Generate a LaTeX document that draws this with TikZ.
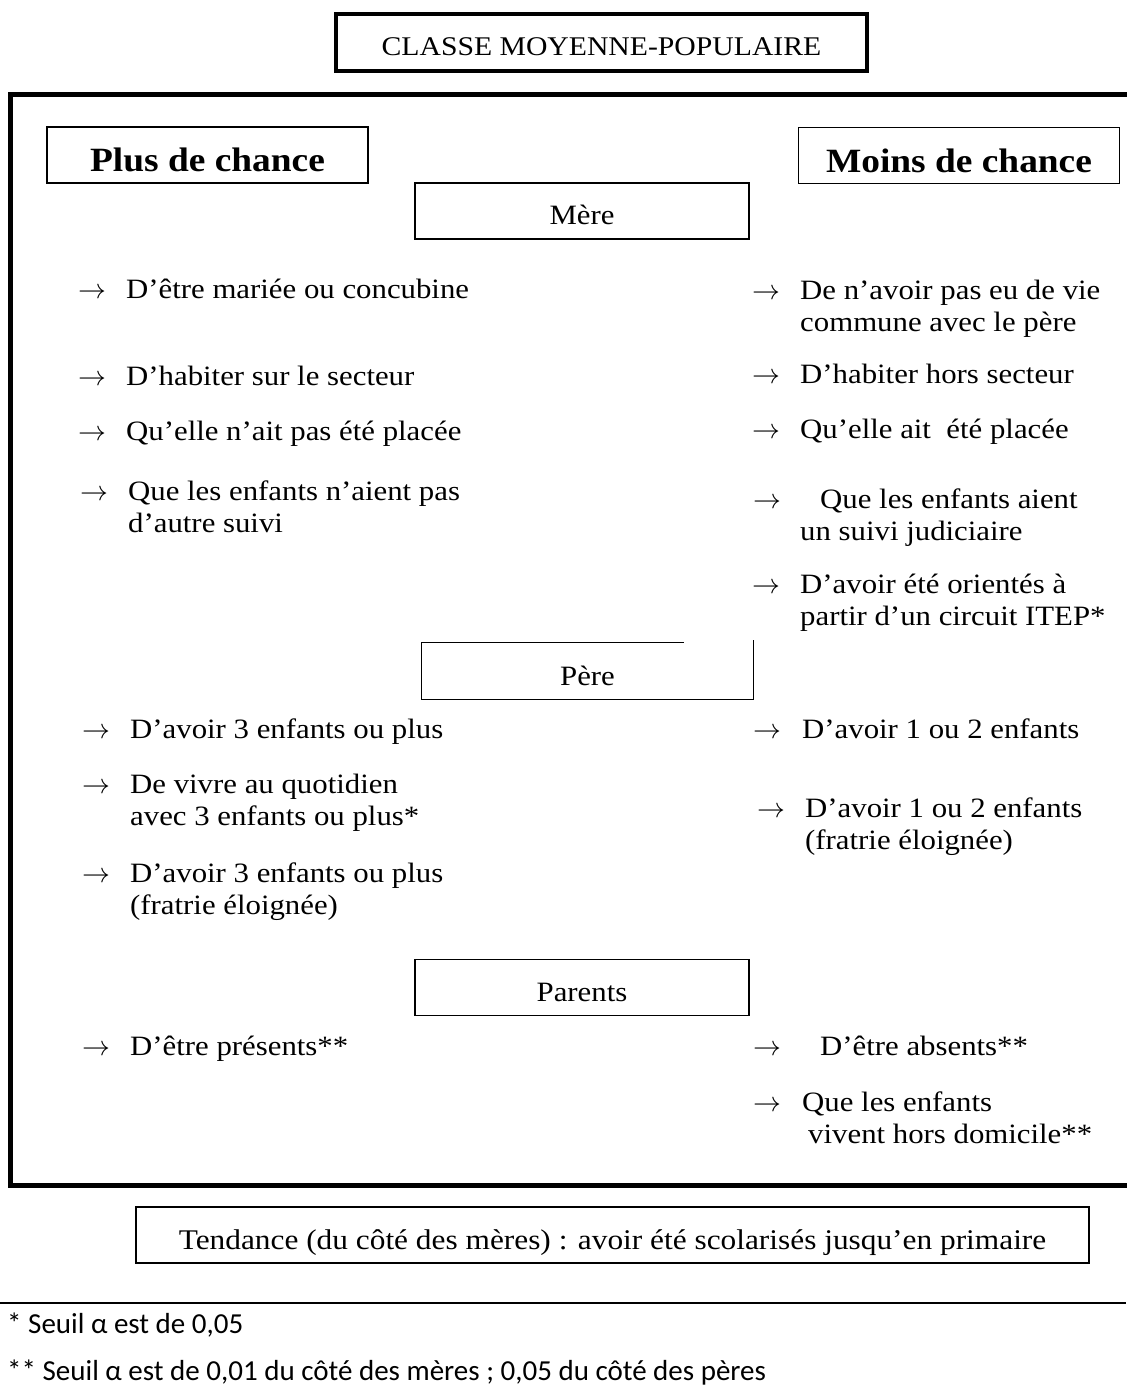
\documentclass[tikz,border=0pt]{standalone}
\usepackage{fontspec}
\setmainfont[FakeStretch=1.1]{Liberation Serif}
\newfontfamily\notefont{Carlito}

\begin{document}
\begin{tikzpicture}[x=1bp,y=-1bp,line join=miter,
  every node/.style={inner sep=0pt},
  cadre/.style={line width=5bp},
  titre/.style={draw,line width=3.5bp,minimum width=531bp,minimum height=57bp,text height=27bp,text depth=0pt,font=\fontsize{27bp}{32bp}\selectfont},
  entete/.style={draw,line width=1.2bp,minimum width=321bp,minimum height=56bp,text height=34bp,text depth=0pt,font=\fontsize{34bp}{40bp}\selectfont\bfseries},
  rubrique/.style={draw,line width=1.2bp,minimum width=334bp,minimum height=56bp,text height=28bp,text depth=0pt,font=\fontsize{28bp}{32bp}\selectfont},
  fleche/.style={anchor=base west,font=\normalsize},
  texte/.style={anchor=base west,font=\fontsize{28bp}{32bp}\selectfont},
  renvoi/.style={anchor=base west,font=\notefont\fontsize{29bp}{34bp}\selectfont},
]
\useasboundingbox (0,0) rectangle (1126,1393);
%%
\node[titre] (titre) at (601.5,42.5) {CLASSE MOYENNE-POPULAIRE};
\draw[cadre] (10,95) rectangle (1145,1185);
\node[entete] (plus) at (207.5,155) {Plus de chance};
\node[entete] (moins) at (959,155.5) {Moins de chance};
%
\node[rubrique] (mere) at (582,211) {Mère};
  \node[fleche] (mere_g1_f) at (78,298) {\scalebox{2.8}{$\rightarrow$}};
  \node[texte] (mere_g1) at (126,298) {D’être mariée ou concubine};
  \node[fleche] (mere_g2_f) at (78,385) {\scalebox{2.8}{$\rightarrow$}};
  \node[texte] (mere_g2) at (126,385) {D’habiter sur le secteur};
  \node[fleche] (mere_g3_f) at (78,440) {\scalebox{2.8}{$\rightarrow$}};
  \node[texte] (mere_g3) at (126,440) {Qu’elle n’ait pas été placée};
  \node[fleche] (mere_g4_f) at (80,500) {\scalebox{2.8}{$\rightarrow$}};
  \node[texte] (mere_g4) at (128,500) {\begin{tabular}[t]{@{}l@{}}Que les enfants n’aient pas\\d’autre suivi\end{tabular}};
  \node[fleche] (mere_d1_f) at (752,299) {\scalebox{2.8}{$\rightarrow$}};
  \node[texte] (mere_d1) at (800,299) {\begin{tabular}[t]{@{}l@{}}De n’avoir pas eu de vie\\commune avec le père\end{tabular}};
  \node[fleche] (mere_d2_f) at (752,383) {\scalebox{2.8}{$\rightarrow$}};
  \node[texte] (mere_d2) at (800,383) {D’habiter hors secteur};
  \node[fleche] (mere_d3_f) at (752,438) {\scalebox{2.8}{$\rightarrow$}};
  \node[texte] (mere_d3) at (800,438) {Qu’elle ait\ \ été placée};
  \node[fleche] (mere_d4_f) at (753,508) {\scalebox{2.8}{$\rightarrow$}};
  \node[texte] (mere_d4) at (800,508) {\begin{tabular}[t]{@{}l@{}}\hspace*{20bp}Que les enfants aient\\un suivi judiciaire\end{tabular}};
  \node[fleche] (mere_d5_f) at (752,593) {\scalebox{2.8}{$\rightarrow$}};
  \node[texte] (mere_d5) at (800,593) {\begin{tabular}[t]{@{}l@{}}D’avoir été orientés à\\partir d’un circuit ITEP*\end{tabular}};
%
\node[rubrique,draw=none,minimum width=331bp] (pere) at (587.5,671) {Père};
\draw[line width=1.2bp] ([xshift=-70bp]pere.north east) -| (pere.south west) -| ([yshift=2bp]pere.north east);
  \node[fleche] (pere_g1_f) at (82,738) {\scalebox{2.8}{$\rightarrow$}};
  \node[texte] (pere_g1) at (130,738) {D’avoir 3 enfants ou plus};
  \node[fleche] (pere_g2_f) at (82,793) {\scalebox{2.8}{$\rightarrow$}};
  \node[texte] (pere_g2) at (130,793) {\begin{tabular}[t]{@{}l@{}}De vivre au quotidien\\avec 3 enfants ou plus*\end{tabular}};
  \node[fleche] (pere_g3_f) at (82,882) {\scalebox{2.8}{$\rightarrow$}};
  \node[texte] (pere_g3) at (130,882) {\begin{tabular}[t]{@{}l@{}}D’avoir 3 enfants ou plus\\(fratrie éloignée)\end{tabular}};
  \node[fleche] (pere_d1_f) at (753,738) {\scalebox{2.8}{$\rightarrow$}};
  \node[texte] (pere_d1) at (802,738) {D’avoir 1 ou 2 enfants};
  \node[fleche] (pere_d2_f) at (757,817) {\scalebox{2.8}{$\rightarrow$}};
  \node[texte] (pere_d2) at (805,817) {\begin{tabular}[t]{@{}l@{}}D’avoir 1 ou 2 enfants\\(fratrie éloignée)\end{tabular}};
%
\node[rubrique] (parents) at (582,987.5) {Parents};
  \node[fleche] (par_g1_f) at (82,1055) {\scalebox{2.8}{$\rightarrow$}};
  \node[texte] (par_g1) at (130,1055) {D’être présents**};
  \node[fleche] (par_d1_f) at (753,1055) {\scalebox{2.8}{$\rightarrow$}};
  \node[texte] (par_d1) at (820,1055) {D’être absents**};
  \node[fleche] (par_d2_f) at (753,1111) {\scalebox{2.8}{$\rightarrow$}};
  \node[texte] (par_d2) at (802,1111) {\begin{tabular}[t]{@{}l@{}}Que les enfants\\\hspace*{6bp}vivent hors domicile**\end{tabular}};
%
\node[rubrique,minimum width=953bp,font=\fontsize{28.5bp}{34bp}\selectfont] (tendance) at (612.5,1235) {Tendance (du côté des mères) : avoir été scolarisés jusqu’en primaire};
\draw[line width=2bp] (0,1303) -- (1126,1303);
\node[renvoi] (renvoi1) at (7,1333) {* Seuil α est de 0,05};
\node[renvoi] (renvoi2) at (7,1380) {** Seuil α est de 0,01 du côté des mères ; 0,05 du côté des pères};
%
\end{tikzpicture}
\end{document}
